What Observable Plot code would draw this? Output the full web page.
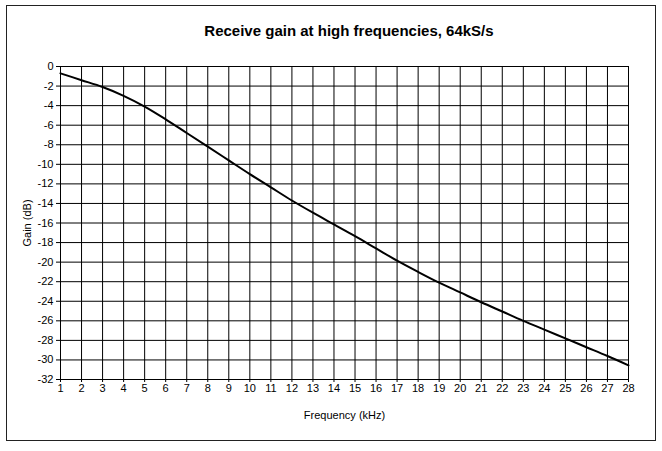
<!DOCTYPE html>
<html>
<head>
<meta charset="utf-8">
<script src="https://cdn.jsdelivr.net/npm/d3@7"></script>
<script src="https://cdn.jsdelivr.net/npm/@observablehq/plot@0.6"></script>
<style>
  html, body { margin: 0; padding: 0; background: #fff; }
  #wrap { position: relative; width: 662px; height: 451px; overflow: hidden; font-family: "Liberation Sans", Arial, sans-serif; }
  #border { position: absolute; left: 6px; top: 5px; width: 650px; height: 436px; border: 1.5px solid #222; box-sizing: border-box; }
  #title { position: absolute; left: 49px; width: 600px; top: 22px; text-align: center; font-weight: bold; font-size: 15px; color: #000; }
  #chart { position: absolute; left: 0; top: 0; }
</style>
</head>
<body>
<div id="wrap">
  <div id="chart"></div>
  <div id="border"></div>
  <div id="title">Receive gain at high frequencies, 64kS/s</div>
</div>
<script>
const freqKHz = [1, 2, 3, 4, 5, 6, 7, 8, 9, 10, 11, 12, 13, 14, 15, 16, 17, 18, 19, 20, 21, 22, 23, 24, 25, 26, 27, 28];
const gainDB = [-0.7, -1.4, -2.1, -3.0, -4.1, -5.4, -6.8, -8.2, -9.6, -11.0, -12.35, -13.7, -14.95, -16.15, -17.35, -18.6, -19.85, -21.0, -22.1, -23.1, -24.1, -25.05, -26.0, -26.9, -27.8, -28.7, -29.6, -30.55];
const xTicks = d3.range(1, 29, 1);
const yTicks = d3.range(-32, 1, 2);

const data = freqKHz.map((f, i) => ({f, g: gainDB[i]}));

const plot = Plot.plot({
  width: 662,
  height: 451,
  marginLeft: 60,
  marginRight: 34,
  marginTop: 66,
  marginBottom: 72,
  style: {fontFamily: "'Liberation Sans', Arial, sans-serif", fontSize: "11px", color: "#000", background: "#fff"},
  x: {domain: [1, 28]},
  y: {domain: [-32, 0]},
  marks: [
    Plot.ruleX(xTicks, {stroke: "#000", strokeWidth: 1}),
    Plot.ruleY(yTicks, {stroke: "#000", strokeWidth: 1}),
    Plot.line(data, {x: "f", y: "g", stroke: "#000", strokeWidth: 2, curve: "catmull-rom"}),
    Plot.axisX({ticks: xTicks, tickFormat: d => String(d), tickSize: 3, tickPadding: 2, label: "Frequency (kHz)", labelAnchor: "center", labelOffset: 39, labelArrow: "none"}),
    Plot.axisY({ticks: yTicks, tickFormat: d => String(d), tickSize: 4, tickPadding: 3, label: "Gain (dB)", labelAnchor: "center", labelOffset: 37, labelArrow: "none"})
  ]
});
document.getElementById("chart").appendChild(plot);
</script>
</body>
</html>
